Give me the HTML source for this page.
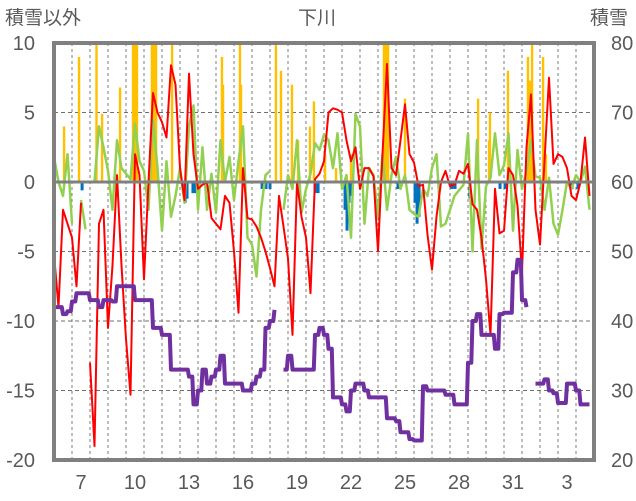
<!DOCTYPE html>
<html><head><meta charset="utf-8"><style>
body{margin:0;background:#fff;}
svg{display:block;font-family:"Liberation Sans","Noto Sans CJK JP",sans-serif;}
</style></head><body>
<svg id="chart" width="636" height="501" viewBox="0 0 636 501">
<g id="grid"></g>
<g id="bars"></g>
<g id="lines"></g>
<g id="frame"></g>
<g id="labels"></g>
<text x="5" y="24" font-size="19" fill="#595959">積雪以外</text>
<text x="317" y="24" font-size="19" fill="#595959" text-anchor="middle">下川</text>
<text x="590" y="24" font-size="19" fill="#595959">積雪</text>
</svg>
<script>
const dayLabels = ["7","10","13","16","19","22","25","28","31","3"];
const dayLabelIdx = [1,4,7,10,13,16,19,22,25,28];
const leftTicks = [10,5,0,-5,-10,-15,-20];
const rightTicks = [80,70,60,50,40,30,20];
// 6-hourly series (index i = i/4 days from start)
const tempRed = [-5.2,-9,-2,-3,-4,-7.5,-1.5,null,-13,-19,-3,-2,-10.5,-6,0.5,-6,-11.3,-15.3,2,0.5,-7,0,6.4,5,4.3,3.2,8.4,7,1,-1.3,7.8,
2,-0.5,-0.2,0,-2.6,-3,-3.4,-1,-1.5,-5,-9.4,1,-2.6,-2.7,-3.2,-4,-5,-6.2,-7.5,-1,-3.2,-5.5,-11,0,-2.5,-4,-8,0.2,0.6,1.5,
5,5.3,5.2,5,3,1.5,2.5,-0.5,1,1,0.4,-5,2,8.5,1,0.5,3,5.6,2,1.4,-0.3,-0.2,-3.8,-6.3,-2.5,0,0.8,-0.3,-0.2,0.8,
0.6,1.3,-1.6,-2,-4,-7,-11,-0.5,-3.7,-3.5,1,0.5,-1.7,-6.5,2.5,6.3,-2,-4.5,1.5,7.5,1.3,2,1.8,1,-1,-1.3,0,3.2,-1];
const greenSeries = [1.8,0,-1,2,-3,null,-1.3,-3.4,null,0,4,2.5,0.8,-2,3,1,0.6,0.2,4.2,1.5,0.8,-2,4.5,1,-3.5,1.5,-2.5,-1,1,-1.5,4,
5.5,-2,2.5,-2,0.6,-2.2,3,0,1.8,-1.3,1.5,4,-4,-4.5,-6.8,-2,0.5,0.8,null,null,-2,0.5,-0.5,3,-2.2,-0.5,0.6,2.8,2.3,3.4,
3,1,3.5,-0.5,0.5,-4,4.9,4,-3,1,0.5,-2.5,2,-2,0.5,1.8,-0.5,0.5,-2,-2.3,-2.5,-0.5,-1,1,2,-3.2,-3,-2,-1,-0.6,
-0.2,3.5,-5,3,-4.8,-0.3,0.3,3.5,0.5,1.2,3.5,-3.5,2.3,-0.5,0.8,3,0.4,0.3,-2,0.3,-3,-3.8,-2,0,-0.5,0.5,0,1.1,-2];
// snow depth cm (right axis)
const snowDepth = [42,42,41,41.4,42.8,44,44,44,43,43,42,43,43,42.8,45,45,45,45,43,43,43,43,39,39,38,38,33,33,33,33,
32,28,30,33,31,32,33,35,31,31,31,31,30,30,31,32,33,39,40,41.6,null,33,35,33,33,33,33,33,38,39,
38,36,29,29,28,27,30,31,31,30,29,29,29,29,26,26,25.6,24,24,23,22.8,22.8,30.6,30,30,30,30,29.4,29.4,28,
28,28,34,40,41,38,38,38,36,41,41.2,41.2,47,48.8,43,42,null,31,31,31.6,30,29.6,28.2,28.2,31,31,30,28,28,28];
const precipDay = [0.56,1.39,2.36,2.67,3.67,4.39,4.5,4.61,5.44,5.56,5.67,6.56,9.33,9.39,10.33,10.39,12.33,12.61,13.22,13.56,14.22,14.44,15.06,15.67,16.5,18.33,18.44,18.56,19.5,23.56,24.17,24.22,25.22,26.33,26.44,26.56,27.17,27.33];
const precipVal = [4,9,10,4.9,6.8,10,10,10,10,10,10,10,9,7,10,7,10,8,7,3,4,5.8,2,1,2,10,10,10,6,6,3,5,8,9,7.3,10,9,2];
const snowDropDay = [1.56,7.28,7.39,7.72,7.83,11.56,11.78,12,14.5,14.67,16.17,16.28,16.39,16.5,19.11,20.06,20.17,20.28,22.11,22.28,23.11,24.78,25.06,28.78,29.11];
const snowDropVal = [-0.6,-1.5,-1.2,-0.8,-0.8,-0.5,-0.5,-0.5,-0.8,-0.8,-2,-3.5,-1.5,-1,-0.5,-1.5,-3,-2.5,-0.5,-0.5,-1.2,-0.5,-0.5,-0.5,-0.5];

const X0=54, X1=594, Y0=43, Y1=460, DAYS=30;
const NS="http://www.w3.org/2000/svg";
function xd(d){return X0+d*(X1-X0)/DAYS;}
function yl(v){return Y0+(10-v)*(Y1-Y0)/30;}
function yr(s){return Y0+(80-s)*(Y1-Y0)/60;}
function mk(tag,attrs,parent){const e=document.createElementNS(NS,tag);for(const k in attrs)e.setAttribute(k,attrs[k]);parent.appendChild(e);return e;}
const grid=document.getElementById('grid'),bars=document.getElementById('bars'),lines=document.getElementById('lines'),frame=document.getElementById('frame'),labels=document.getElementById('labels');
for(let d=1;d<DAYS;d++){
  const l=mk('line',{x1:xd(d),x2:xd(d),y1:Y0,y2:Y1,stroke:'#6f6f6f','stroke-width':0.9,'stroke-dasharray':'3,3'},grid);
  
  
}
[5,-5,-10,-15].forEach(v=>{
  const l=mk('line',{x1:X0,x2:X1,y1:yl(v),y2:yl(v),stroke:'#6f6f6f','stroke-width':0.9,'stroke-dasharray':'4,3'},grid);
  
  
});
precipDay.forEach((d,i)=>{
  const v=Math.min(precipVal[i],10);
  const r=mk('rect',{x:xd(d)-1.2,y:yl(v),width:2.4,height:yl(0)-yl(v),fill:'#ffc000'},bars);
  
  
});
snowDropDay.forEach((d,i)=>{
  const v=snowDropVal[i];
  const r=mk('rect',{x:xd(d)-1.5,y:yl(0),width:3,height:yl(v)-yl(0),fill:'#0070c0'},bars);
  
  
});
function pathOf(arr,yf,step){let s='',pen=false,px=0;arr.forEach((v,i)=>{if(v===null){pen=false;return;}const x=xd(i/4),y=yf(v);
  if(pen&&step){const mx=x-1.2;s+='H'+mx.toFixed(1)+'L'+x.toFixed(1)+' '+y.toFixed(1);}
  else s+=(pen?'L':'M')+x.toFixed(1)+' '+y.toFixed(1);pen=true;});return s;}
const gp=mk('path',{d:pathOf(greenSeries,yl,false),fill:'none',stroke:'#92d050','stroke-width':2.5,'stroke-linejoin':'round'},lines);


const rp=mk('path',{d:pathOf(tempRed,yl,false),fill:'none',stroke:'#ff0000','stroke-width':2,'stroke-linejoin':'round'},lines);


const pp=mk('path',{d:pathOf(snowDepth,yr,true),fill:'none',stroke:'#7030a0','stroke-width':4,'stroke-linejoin':'round'},lines);


const z=mk('line',{x1:X0,x2:X1,y1:yl(0),y2:yl(0),stroke:'#808080','stroke-width':3},frame);


const fr=mk('rect',{x:X0,y:Y0,width:X1-X0,height:Y1-Y0,fill:'none',stroke:'#808080','stroke-width':4},frame);


leftTicks.forEach(v=>{
  const t=mk('text',{x:35,y:yl(v)+7,'text-anchor':'end','font-size':20,fill:'#595959'},labels);t.textContent=v;
  
  
});
rightTicks.forEach(s=>{
  const t=mk('text',{x:611,y:yr(s)+7,'font-size':20,fill:'#595959'},labels);t.textContent=s;
  
  
});
dayLabels.forEach((lab,i)=>{
  const t=mk('text',{x:xd(dayLabelIdx[i]+0.5),y:489,'text-anchor':'middle','font-size':20,fill:'#595959'},labels);t.textContent=lab;
  
  
});
</script>
</body></html>
